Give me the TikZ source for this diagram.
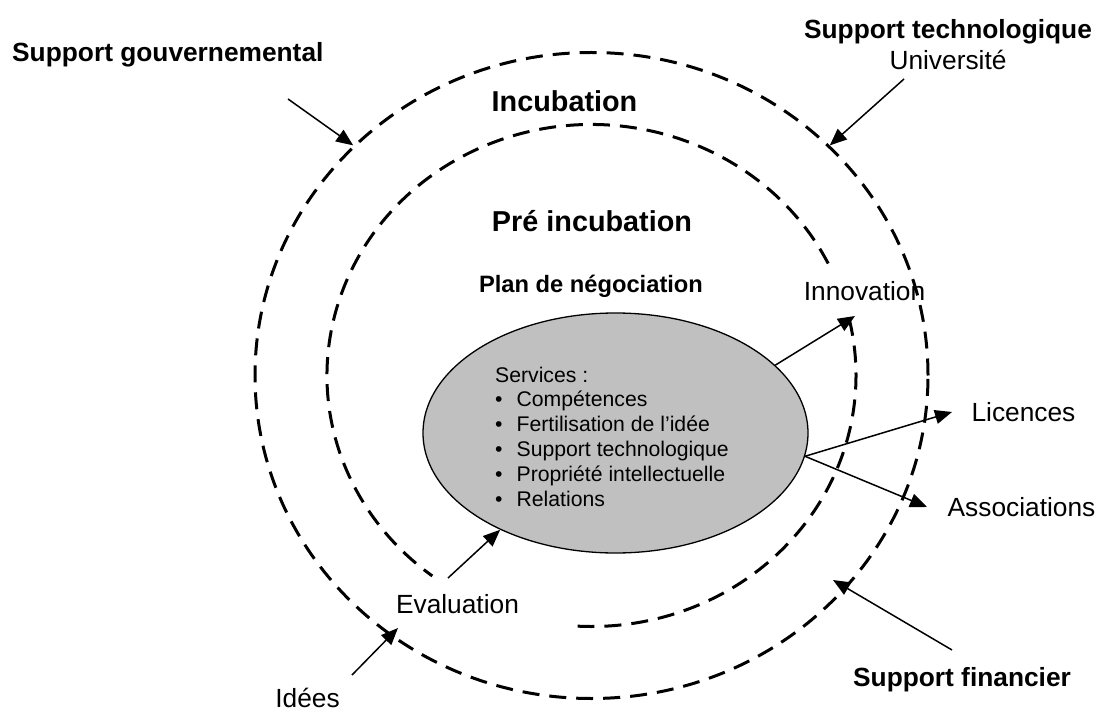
\documentclass[tikz,border=0pt]{standalone}
\usepackage{fontspec}
\setmainfont{Liberation Sans}
\usetikzlibrary{arrows.meta, positioning, shapes.geometric}
\definecolor{ovalgrey}{HTML}{C0C0C0}

\begin{document}
\begin{tikzpicture}[x=1pt,y=-1pt,
    ringline/.style={line width=3pt, dash pattern=on 17pt off 10pt},
    flowarrow/.style={-{Triangle[length=17pt,width=14pt]}, line width=1.5pt},
    phasetext/.style={font=\fontsize{28.8}{34}\selectfont\bfseries, inner sep=0pt, anchor=base},
    supporttext/.style={font=\fontsize{26.3}{31}\selectfont\bfseries, inner sep=0pt, anchor=base},
    outtext/.style={font=\fontsize{26.3}{31}\selectfont, inner sep=0pt, anchor=base}]
  \useasboundingbox (0,0) rectangle (1100,711);
  \coordinate (mid) at (591.5,375.5);

  \draw[ringline] (mid) ++(26.5:264.5pt and 251pt)
    arc[start angle=26.5, end angle=233, x radius=264.5pt, y radius=251pt];
  \draw[ringline] (mid) ++(13:264.5pt and 251pt)
    arc[start angle=13, end angle=-93, x radius=264.5pt, y radius=251pt];
  \node[ellipse, draw, ringline, minimum width=673pt, minimum height=646pt, inner sep=0pt] (outer) at (mid) {};

  \node[ellipse, draw, fill=ovalgrey, line width=1.3pt, minimum width=385pt, minimum height=240pt] (services) at (615.5,433) {};
  \node[anchor=base west, inner sep=0pt, font=\fontsize{21.2}{24.8}\selectfont] (servlist) at (495,382) {%
    \begin{tabular}[t]{@{}l@{\hspace{14pt}}l@{}}
      \multicolumn{2}{@{}l@{}}{Services :}\\
      \textbullet & Compétences\\
      \textbullet & Fertilisation de l’idée\\
      \textbullet & Support technologique\\
      \textbullet & Propriété intellectuelle\\
      \textbullet & Relations
    \end{tabular}};

  \node[supporttext, anchor=base west] (gouv) at (12,62) {Support gouvernemental};
  \node[supporttext] (tech) at (948,39) {Support technologique};
  \node[outtext, below=31pt of tech.base, anchor=base] (univ) {Université};
  \node[phasetext] (incub) at (564.5,112) {Incubation};
  \node[phasetext] (preincub) at (592,232) {Pré incubation};
  \node[phasetext, font=\fontsize{23.7}{28}\selectfont\bfseries] (plan) at (591,292) {Plan de négociation};
  \node[outtext] (innov) at (864.5,301) {Innovation};
  \node[outtext] (lic) at (1023.5,421) {Licences};
  \node[outtext] (assoc) at (1021.5,516) {Associations};
  \node[outtext] (eval) at (457.5,613) {Evaluation};
  \node[outtext] (idees) at (307.5,707) {Idées};
  \node[supporttext] (fin) at (962,686) {Support financier};

  \coordinate (gouvfrom) at (288,99);
  \coordinate (techfrom) at (904,79);
  \coordinate (finfrom) at (952,650);
  \coordinate (finto) at (833,580);
  \coordinate (ideesfrom) at (352,675);
  \coordinate (ideesto) at (398,628);
  \coordinate (evalfrom) at (448,578);
  \coordinate (innovto) at (855,316);
  \coordinate (licto) at (952,412);
  \coordinate (assocto) at (927,507);

  \path[flowarrow]
    (gouvfrom) edge (outer.136)
    (techfrom) edge (outer.44)
    (finfrom) edge (finto)
    (ideesfrom) edge (ideesto)
    (evalfrom) edge (services.220)
    (services.23) edge (innovto)
    (services.-7) edge (licto)
    (services.-7) edge (assocto);
\end{tikzpicture}
\end{document}
